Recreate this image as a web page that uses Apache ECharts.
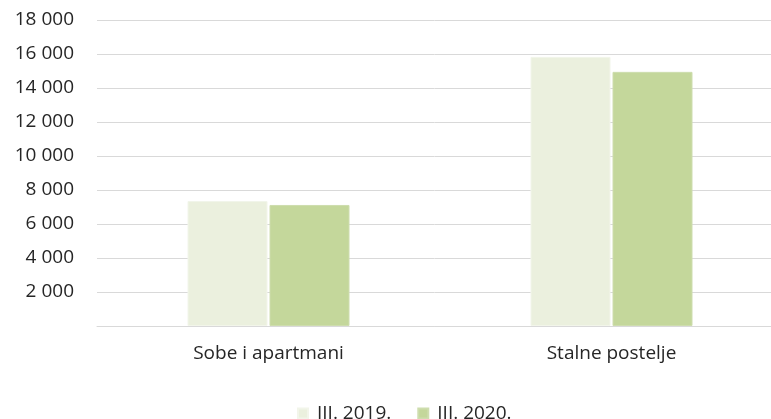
<!DOCTYPE html>
<html>
<head>
<meta charset="utf-8">
<script src="https://cdn.jsdelivr.net/npm/echarts@6/dist/echarts.min.js"></script>
<style>
  html, body { margin: 0; padding: 0; background: #fff; }
  #chart { width: 771px; height: 419px; }
</style>
</head>
<body>
<div id="chart"></div>
<script>
const categories = ['Sobe i apartmani', 'Stalne postelje']
const seriesNames = ['III. 2019.', 'III. 2020.']
const values2019 = [7350, 15830]
const values2020 = [7120, 14950]
const colors = ['#EBF0DE', '#C4D79B']

const chart = echarts.init(document.getElementById('chart'))
const fontFamily = '"Open Sans", "Liberation Sans", sans-serif'
const textColor = '#262626'

const option = {
  animation: false,
  textStyle: { fontFamily: fontFamily },
  // plot runs past the right edge, like the original
  grid: { left: 97, width: 686, top: 20, bottom: 93, outerBoundsMode: 'none' },
  legend: {
    data: seriesNames,
    top: 399,
    left: 292,
    itemWidth: 10,
    itemHeight: 10,
    itemGap: 26,
    icon: 'rect',
    textStyle: { fontSize: 19, color: textColor, fontFamily: fontFamily, padding: [0, 0, 0, 4] }
  },
  xAxis: {
    type: 'category',
    data: categories,
    axisTick: { show: false },
    axisLine: { lineStyle: { color: '#D9D9D9', width: 1 } },
    axisLabel: { fontSize: 19, color: textColor, margin: 18 }
  },
  yAxis: {
    type: 'value',
    min: 0,
    max: 18000,
    interval: 2000,
    axisLine: { show: false },
    axisTick: { show: false },
    splitLine: { lineStyle: { color: '#D9D9D9', width: 1 } },
    axisLabel: {
      fontSize: 19,
      color: textColor,
      margin: 23,
      formatter: function (v) {
        if (v === 0) return ''
        return String(v).replace(/\B(?=(\d{3})+(?!\d))/g, ' ')
      }
    }
  },
  series: [
    {
      name: seriesNames[0],
      type: 'bar',
      data: values2019,
      barWidth: 80,
      barGap: '2.5%',
      itemStyle: { color: colors[0], borderColor: '#F2F5EA', borderWidth: 1 }
    },
    {
      name: seriesNames[1],
      type: 'bar',
      data: values2020,
      barWidth: 80,
      barGap: '2.5%',
      itemStyle: { color: colors[1], borderColor: '#CEDDAE', borderWidth: 1 }
    }
  ]
}
chart.setOption(option)
</script>
</body>
</html>
